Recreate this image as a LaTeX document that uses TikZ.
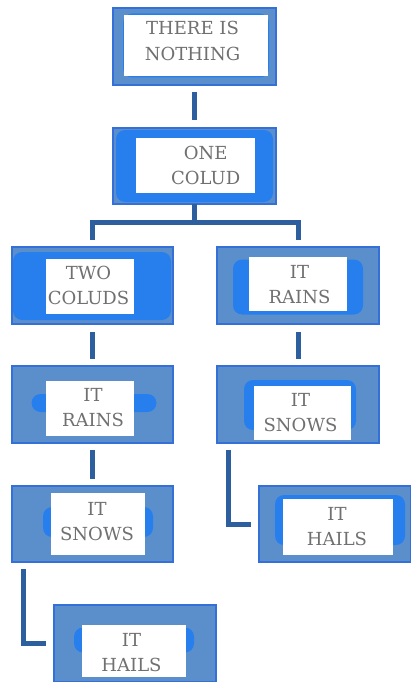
\documentclass[tikz,border=0pt]{standalone}
\usepackage{fontspec}
\setmainfont{DejaVu Serif}
\definecolor{boxfill}{HTML}{5B8FCB}
\definecolor{boxedge}{HTML}{3470D8}
\definecolor{glowblue}{HTML}{1F7DF5}
\definecolor{linkblue}{HTML}{2D5F9E}
\definecolor{textgray}{HTML}{707070}
\tikzset{
  outerbox/.style={draw=boxedge, line width=1.2pt, fill=boxfill, inner sep=0pt, outer sep=0pt},
  glowbox/.style={fill=glowblue, fill opacity=0.85, rounded corners=9pt, inner sep=0pt},
  innerbox/.style={fill=white, inner sep=0pt},
  boxtext/.style={align=center, text=textgray, font=\fontsize{18}{25.5}\selectfont, inner sep=0pt},
  link/.style={draw=linkblue, line width=5pt}
}
\begin{document}
\begin{tikzpicture}[x=1pt, y=-1pt]
  \useasboundingbox (0,0) rectangle (411,682);
  % boxes: name / outer / glow / inner / text
  \foreach \n/\ox/\oy/\ow/\oh/\gx/\gy/\gw/\gh/\ix/\iy/\iw/\ih/\tx/\ty/\ta/\tb in {
      nothing/194.5/46.5/163/77/196/45.5/146/64/196/45.5/144/61/192.5/41/THERE IS/NOTHING,
      one/194.5/166/163/76/194.5/166/157/72/195.5/165.5/119/55/205.7/165.5/ONE/COLUD,
      two/92.5/285.5/161/77/92/286/158/68/90/286.5/88/55/88.5/285.5/TWO/COLUDS,
      rainR/298/285.5/162/77/298/287/130/55/298/284/98/54/299.5/284.5/IT/RAINS,
      rainL/92.5/404.5/161/77/94/403/125/18/90/408.5/88/55/93/407.5/IT/RAINS,
      snowR/298/404.5/162/77/300/405/112/50/302.5/413/97/54/300.5/412.5/IT/SNOWS,
      snowL/92.5/524/161/76/98/522/110/30/98/524/94/62/97/521.5/IT/SNOWS,
      hailR/335/524/152/76/340/520/130/50/338/527/110/56/337/526.5/IT/HAILS,
      hailL/135/643.5/162/77/134/640/120/25/134/651/104/52/131.5/652.5/IT/HAILS
    } {
      \node[outerbox, minimum width=\ow pt, minimum height=\oh pt] (\n) at (\ox,\oy) {};
      \node[glowbox, minimum width=\gw pt, minimum height=\gh pt] at (\gx,\gy) {};
      \node[innerbox, minimum width=\iw pt, minimum height=\ih pt] (\n-in) at (\ix,\iy) {};
      \node[boxtext] (\n-txt) at (\tx,\ty) {\ta\\\tb};
    }
  % connectors
  \coordinate (split) at (194.5,222);
  \draw[link, shorten <=7pt, shorten >=8pt] (nothing) -- (one);
  \draw[link] (one.south) -- (split);
  \draw[link, shorten >=7pt] (split) -| (two.north);
  \draw[link, shorten >=7pt] (split) -| (rainR.north);
  \draw[link, shorten <=8pt, shorten >=7pt] (two) -- (rainL);
  \draw[link, shorten <=8pt, shorten >=7pt] (rainR) -- (snowR);
  \draw[link, shorten <=7pt, shorten >=7pt] (rainL) -- (snowL);
  \draw[link, shorten >=8pt] ([xshift=11pt, yshift=-7pt]snowR.south west) |- (hailR.west);
  \draw[link, shorten >=8pt] ([xshift=11pt, yshift=-7pt]snowL.south west) |- (hailL.west);
\end{tikzpicture}
\end{document}
